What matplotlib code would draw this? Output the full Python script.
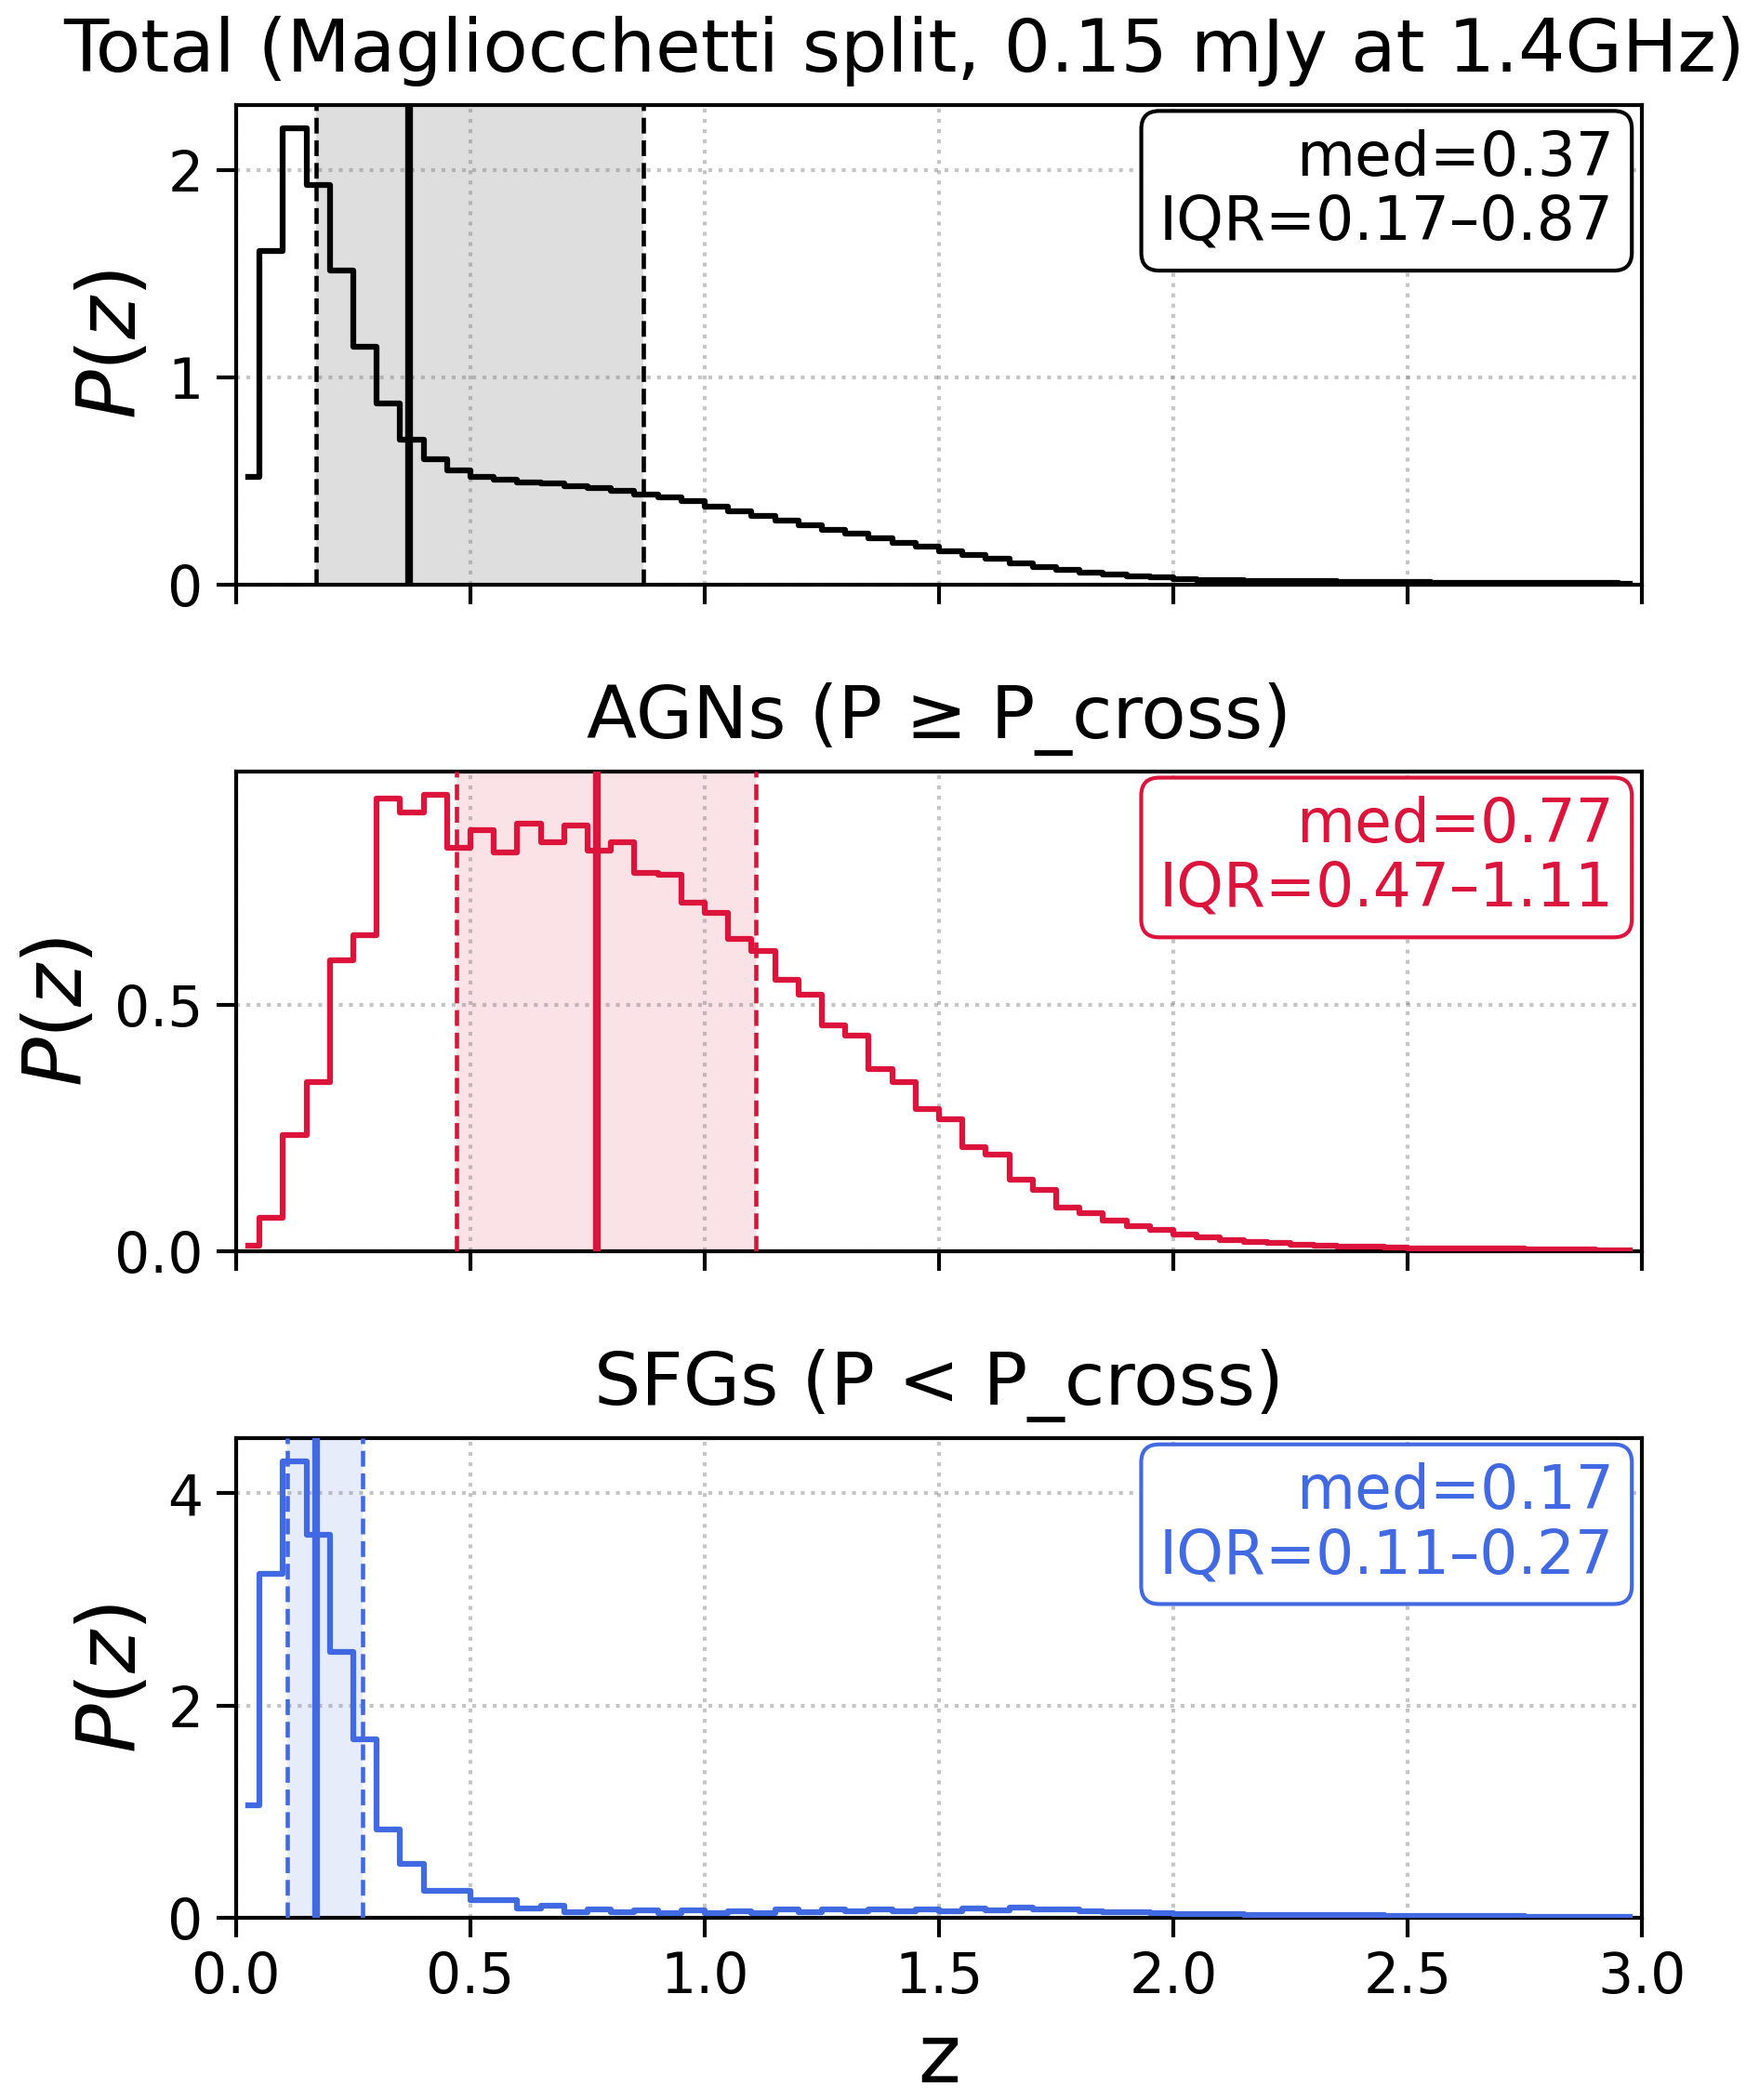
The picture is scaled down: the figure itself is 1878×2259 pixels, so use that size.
import matplotlib
matplotlib.use('Agg')
import matplotlib.pyplot as plt
import numpy as np

# bin edges 0..3 in steps of 0.05 (60 bins)
z_edges = np.linspace(0.0, 3.0, 61)
z_centers = 0.5 * (z_edges[:-1] + z_edges[1:])

pz_total = [0.52, 1.61, 2.205, 1.93, 1.515, 1.148, 0.875, 0.70, 0.605, 0.55,
            0.52, 0.505, 0.494, 0.486, 0.474, 0.463, 0.45, 0.435, 0.42, 0.40,
            0.375, 0.352, 0.33, 0.307, 0.287, 0.265, 0.245, 0.223, 0.20, 0.18,
            0.16, 0.141, 0.122, 0.10, 0.085, 0.07, 0.058, 0.049, 0.04, 0.034,
            0.027, 0.022, 0.019, 0.018, 0.016, 0.015, 0.014, 0.013, 0.012, 0.011,
            0.010, 0.009, 0.008, 0.008, 0.007, 0.006, 0.006, 0.005, 0.005, 0.004]

pz_agn = [0.01, 0.068, 0.236, 0.343, 0.591, 0.642, 0.918, 0.89, 0.927, 0.818,
          0.854, 0.81, 0.868, 0.83, 0.864, 0.813, 0.83, 0.767, 0.764, 0.708,
          0.687, 0.633, 0.609, 0.55, 0.52, 0.459, 0.4375, 0.37, 0.3425, 0.289,
          0.267, 0.211, 0.195, 0.144, 0.125, 0.0875, 0.077, 0.061, 0.051, 0.0425,
          0.033, 0.028, 0.023, 0.019, 0.016, 0.013, 0.011, 0.009, 0.008, 0.007,
          0.006, 0.006, 0.005, 0.0045, 0.0045, 0.004, 0.003, 0.003, 0.002, 0.002]

pz_sfg = [1.058, 3.24, 4.30, 3.61, 2.50, 1.68, 0.83, 0.51, 0.255, 0.255,
          0.165, 0.17, 0.09, 0.115, 0.055, 0.078, 0.048, 0.067, 0.047, 0.067,
          0.046, 0.058, 0.04, 0.075, 0.05, 0.075, 0.058, 0.075, 0.058, 0.075,
          0.058, 0.087, 0.07, 0.093, 0.078, 0.078, 0.064, 0.055, 0.055, 0.04,
          0.035, 0.035, 0.035, 0.026, 0.026, 0.026, 0.026, 0.026, 0.026, 0.018,
          0.017, 0.016, 0.015, 0.014, 0.013, 0.012, 0.011, 0.010, 0.010, 0.009]

titles = ['Total (Magliocchetti split, 0.15 mJy at 1.4GHz)',
          'AGNs (P ≥ P_cross)',
          'SFGs (P < P_cross)']
title_x = [0.4755, 0.5, 0.5]
colors = ['black', '#DC143C', '#4169E1']
medians = [0.37, 0.77, 0.17]
iqr_lo = [0.17, 0.47, 0.11]
iqr_hi = [0.87, 1.11, 0.27]
yticks = [[0, 1, 2], [0.0, 0.5], [0, 2, 4]]
ytick_labels = [['0', '1', '2'], ['0.0', '0.5'], ['0', '2', '4']]
span_alpha = [0.13, 0.12, 0.12]

plt.rcParams['axes.linewidth'] = 1.0
plt.rcParams['xtick.major.width'] = 1.0
plt.rcParams['ytick.major.width'] = 1.0
plt.rcParams['xtick.major.size'] = 5
plt.rcParams['ytick.major.size'] = 5

fig, axes = plt.subplots(3, 1, figsize=(1878 / 300, 2259 / 300), dpi=300, sharex=True)
fig.subplots_adjust(left=0.1352, right=0.9404, top=0.95, bottom=0.0868, hspace=0.391)

for i, ax in enumerate(axes):
    vals = [pz_total, pz_agn, pz_sfg][i]
    c = colors[i]
    ax.axvspan(iqr_lo[i], iqr_hi[i], color=c, alpha=span_alpha[i], lw=0, zorder=0)
    ax.step(z_centers, vals, where='mid', color=c, lw=1.5, zorder=3)
    ax.axvline(medians[i], color=c, lw=2.0, zorder=3)
    ax.axvline(iqr_lo[i], color=c, lw=1.1, ls='--', zorder=3)
    ax.axvline(iqr_hi[i], color=c, lw=1.1, ls='--', zorder=3)

    ax.set_xlim(0, 3)
    ax.set_ylim(0, 1.05 * max(vals))
    ax.set_yticks(yticks[i])
    ax.set_yticklabels(ytick_labels[i])
    ax.tick_params(labelsize=14.4)
    ax.grid(True, ls=':', lw=1.0, color='gray', alpha=0.45)
    ax.set_ylabel('$P(z)$', fontsize=21)
    ax.set_title(titles[i], fontsize=19.0, pad=8.6, x=title_x[i])

    txt = f'med={medians[i]:.2f}\nIQR={iqr_lo[i]:.2f}–{iqr_hi[i]:.2f}'
    ax.text(0.98, 0.95, txt, transform=ax.transAxes, ha='right', va='top',
            fontsize=15.5, color=c, zorder=5, linespacing=1.1,
            bbox=dict(boxstyle='round,pad=0.3', fc='white', ec=c, lw=1.0))

axes[-1].set_xticks(np.arange(0, 3.01, 0.5))
axes[-1].set_xticklabels([f'{v:.1f}' for v in np.arange(0, 3.01, 0.5)])
axes[-1].set_xlabel('z', fontsize=21)

fig.savefig('out.png', dpi=300)
